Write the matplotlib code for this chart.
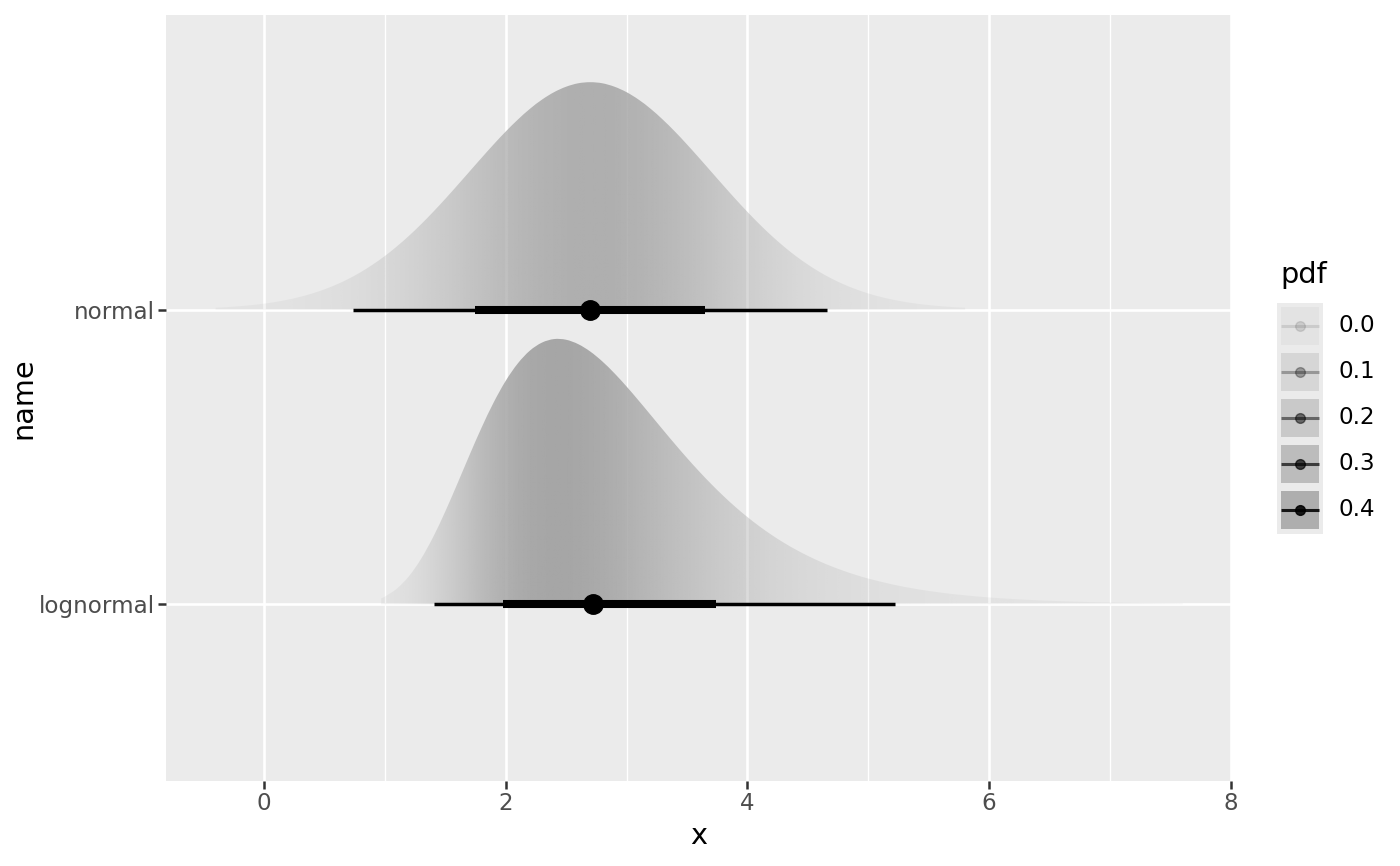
import numpy as np
import matplotlib
matplotlib.use('Agg')
import matplotlib.pyplot as plt
from matplotlib.patches import PathPatch, Rectangle
from matplotlib.path import Path
from matplotlib.image import NonUniformImage
from matplotlib.colors import LinearSegmentedColormap, Normalize

# distributions on the y axis (bottom to top)
names = ['lognormal', 'normal']

# density
normal_x_range = (-0.4, 5.8)
normal_pdf = [0.0033, 0.0044, 0.0060, 0.0079, 0.0104, 0.0136, 0.0175, 0.0224,
              0.0283, 0.0355, 0.0440, 0.0540, 0.0656, 0.0790, 0.0940, 0.1109,
              0.1295, 0.1497, 0.1714, 0.1942, 0.2179, 0.2420, 0.2661, 0.2897,
              0.3123, 0.3332, 0.3521, 0.3683, 0.3814, 0.3910, 0.3970, 0.3989,
              0.3970, 0.3910, 0.3814, 0.3683, 0.3521, 0.3332, 0.3123, 0.2897,
              0.2661, 0.2420, 0.2179, 0.1942, 0.1714, 0.1497, 0.1295, 0.1109,
              0.0940, 0.0790, 0.0656, 0.0540, 0.0440, 0.0355, 0.0283, 0.0224,
              0.0175, 0.0136, 0.0104, 0.0079, 0.0060, 0.0044, 0.0033]

lognormal_x = [0.97, 1.0, 1.1, 1.2, 1.3, 1.4, 1.5, 1.6, 1.7, 1.8, 1.9, 2.0,
               2.1, 2.2, 2.3, 2.4, 2.5, 2.6, 2.7, 2.8, 2.9, 3.0, 3.1, 3.2,
               3.3, 3.4, 3.5, 3.6, 3.7, 3.8, 3.9, 4.0, 4.1, 4.2, 4.3, 4.4,
               4.5, 4.6, 4.7, 4.8, 4.9, 5.0, 5.2, 5.4, 5.6, 5.8, 6.0, 6.2,
               6.4, 6.6, 6.8, 7.0, 7.2, 7.4, 7.6]
lognormal_pdf = [0.0104, 0.0133, 0.0274, 0.0492, 0.0796, 0.1179, 0.1626, 0.2113,
                 0.2612, 0.3095, 0.3537, 0.3918, 0.4223, 0.4448, 0.4589, 0.4651,
                 0.4639, 0.4562, 0.4432, 0.4258, 0.4050, 0.3819, 0.3572, 0.3318,
                 0.3062, 0.2810, 0.2565, 0.2331, 0.2109, 0.1901, 0.1707, 0.1529,
                 0.1365, 0.1216, 0.1080, 0.0958, 0.0848, 0.0749, 0.0661, 0.0582,
                 0.0512, 0.0450, 0.0347, 0.0266, 0.0204, 0.0156, 0.0119, 0.0091,
                 0.0069, 0.0053, 0.0040, 0.0031, 0.0023, 0.0018, 0.0014]

# point (median) and intervals
medians = [2.72, 2.70]
lo66 = [1.98, 1.75]
hi66 = [3.74, 3.65]
lo95 = [1.41, 0.74]
hi95 = [5.22, 4.66]

legend_breaks = [0.0, 0.1, 0.2, 0.3, 0.4]


def smooth_outline(xs, tops, base):
    # closed path with a Catmull-Rom style bezier along the top edge
    pts = np.column_stack([xs, tops])
    n = len(pts)
    verts = [pts[0]]
    codes = [Path.MOVETO]
    for k in range(n - 1):
        p0 = pts[max(k - 1, 0)]
        p1 = pts[k]
        p2 = pts[k + 1]
        p3 = pts[min(k + 2, n - 1)]
        verts += [p1 + (p2 - p0) / 6, p2 - (p3 - p1) / 6, p2]
        codes += [Path.CURVE4] * 3
    verts += [(xs[-1], base), (xs[0], base), (xs[0], base)]
    codes += [Path.LINETO, Path.LINETO, Path.CLOSEPOLY]
    return Path(verts, codes)


W, H = 1400, 866
TICK = 16.6
TITLE = 20.7
fig = plt.figure(figsize=(14, 8.66), dpi=100)
ax = fig.add_axes([166 / W, (H - 781) / H, (1231 - 166) / W, (781 - 15) / H])
ax.set_facecolor('#ebebeb')
for s in ax.spines.values():
    s.set_visible(False)

slab_grey = 0.651
cmap = LinearSegmentedColormap.from_list(
    'slab', [(slab_grey, slab_grey, slab_grey, 0.1), (slab_grey, slab_grey, slab_grey, 1.0)])
pmax = max(max(normal_pdf), max(lognormal_pdf))
norm = Normalize(0, pmax)
scale = 0.9

normal_x = np.linspace(normal_x_range[0], normal_x_range[1], len(normal_pdf))
slabs = [(np.array(lognormal_x), np.array(lognormal_pdf)),
         (normal_x, np.array(normal_pdf))]

for i, (xs, ps) in enumerate(slabs):
    base = i + 1
    tops = base + scale * ps / pmax
    patch = PathPatch(smooth_outline(xs, tops, base), facecolor='none', edgecolor='none')
    ax.add_patch(patch)
    im = NonUniformImage(ax, interpolation='bilinear', cmap=cmap, norm=norm, zorder=2)
    im.set_data(xs, np.array([base, base + scale]), np.vstack([ps, ps]))
    ax.add_image(im)
    im.set_clip_path(patch)

for i in range(len(names)):
    y = i + 1
    ax.plot([lo95[i], hi95[i]], [y, y], color='black', lw=2.5,
            solid_capstyle='butt', zorder=4)
    ax.plot([lo66[i], hi66[i]], [y, y], color='black', lw=5.8,
            solid_capstyle='butt', zorder=4)
    ax.plot(medians[i], y, 'o', color='black', ms=14, zorder=5)

ax.set_xlim(-0.81, 8.0)
ax.set_ylim(0.4, 3.0)
ax.set_xticks([0, 2, 4, 6, 8])
ax.set_xticks([1, 3, 5, 7], minor=True)
ax.set_yticks([1, 2])
ax.set_yticklabels(names)
ax.grid(True, which='major', color='white', lw=1.9)
ax.grid(True, which='minor', axis='x', color='white', lw=1.0)
ax.set_axisbelow(True)
ax.tick_params(which='major', length=5.8, width=1.8, color='#333333',
               labelcolor='#4d4d4d', labelsize=TICK, pad=2.2)
ax.tick_params(which='minor', length=0)
ax.set_xlabel('x', fontsize=TITLE, labelpad=5)
ax.set_ylabel('name', fontsize=TITLE, labelpad=1)

# legend
lax = fig.add_axes([1277 / W, (H - 534) / H, 46 / W, 231 / H])
lax.set_xlim(1277, 1323)
lax.set_ylim(534, 303)
lax.axis('off')
lax.add_patch(Rectangle((1277, 303), 46, 231, facecolor='#ebebeb', edgecolor='none'))
for k, b in enumerate(legend_breaks):
    top = 307 + k * 46
    cy = top + 19
    a = cmap(norm(b))[3]
    lax.add_patch(Rectangle((1281, top), 38, 38, facecolor=(slab_grey,) * 3,
                            alpha=a, edgecolor='none'))
    lax.plot([1281, 1319], [cy, cy], color='black', alpha=a, lw=2.2,
             solid_capstyle='butt')
    lax.plot(1300, cy, 'o', color='black', alpha=a, ms=7)
    fig.text(1338 / W, 1 - cy / H, f'{b:.1f}', fontsize=TICK, va='center', ha='left')
fig.text(1280 / W, 1 - 275 / H, 'pdf', fontsize=TITLE, va='center', ha='left')

fig.savefig('out.png', dpi=100)
